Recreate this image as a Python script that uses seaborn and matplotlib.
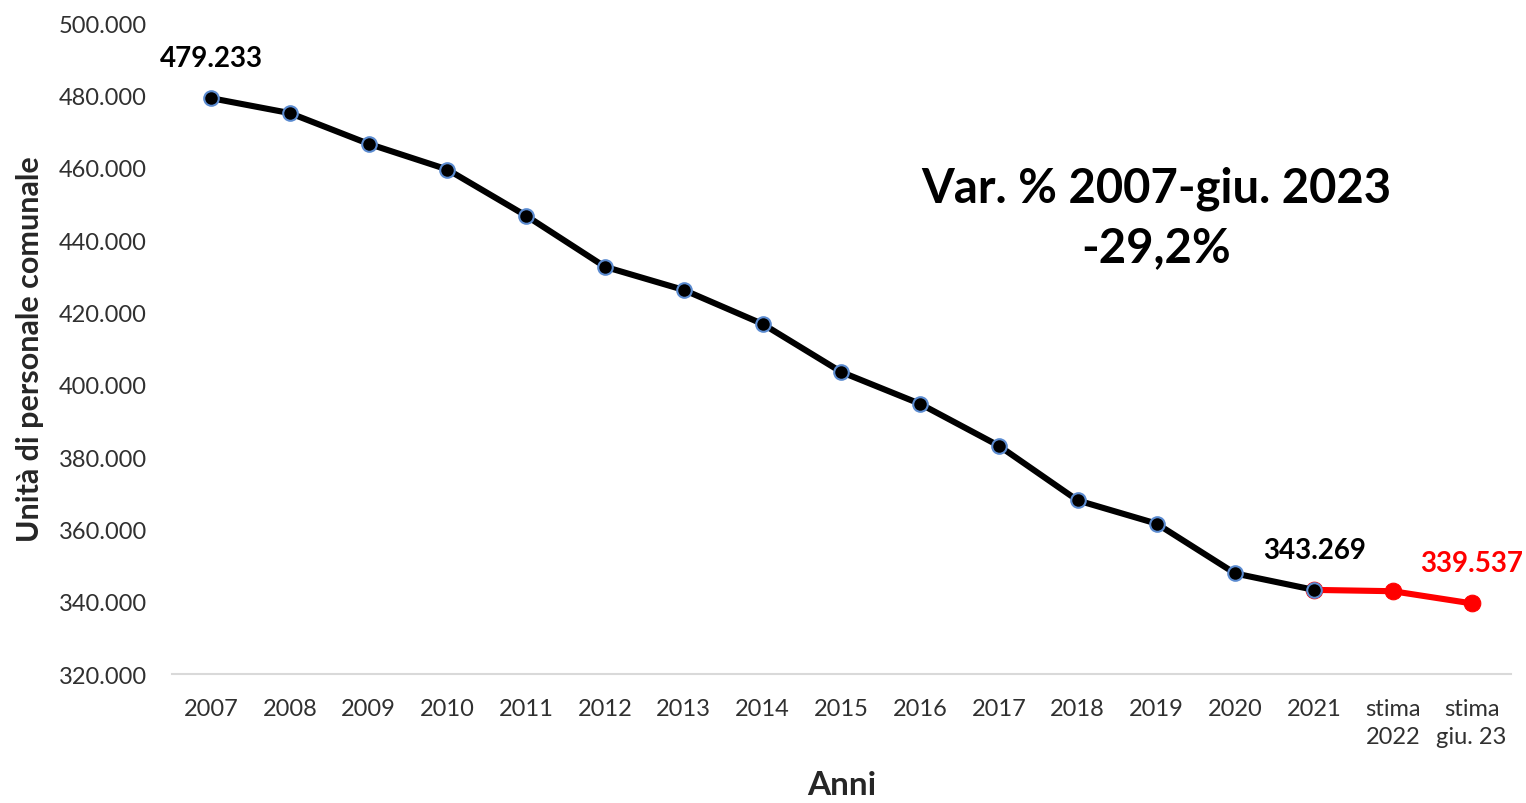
import matplotlib
matplotlib.use("Agg")
import matplotlib.pyplot as plt
import seaborn as sns
import numpy as np
import pandas as pd

categories = ['2007', '2008', '2009', '2010', '2011', '2012', '2013', '2014', '2015',
              '2016', '2017', '2018', '2019', '2020', '2021', 'stima\n2022', 'stima\ngiu. 23']
values = [479233, 475100, 466600, 459500, 446700, 432600, 426200, 416800, 403500,
          394700, 383100, 368000, 361600, 347800, 343269, 342900, 339537]
n_actual = 15  # 2007-2021 are actual data, the rest are estimates
y_ticks = [320000, 340000, 360000, 380000, 400000, 420000, 440000, 460000, 480000, 500000]

sns.set_theme(style="white")
plt.rcParams['font.family'] = ['Lato', 'DejaVu Sans']

df = pd.DataFrame({'pos': np.arange(len(categories)), 'val': values})
actual = df.iloc[:n_actual]
estimate = df.iloc[n_actual - 1:]

fig = plt.figure(figsize=(15.26, 8.04), dpi=100)
ax = fig.add_axes([0.1125, 0.1604, 0.8777, 0.8097])

sns.lineplot(data=estimate, x='pos', y='val', color='#ff0000', linewidth=4.4,
             marker='o', markersize=12, markeredgecolor='#ff0000', ax=ax, zorder=2)
sns.lineplot(data=actual, x='pos', y='val', color='black', linewidth=4.4,
             marker='o', markersize=10.5, markeredgecolor='#5b8bd0', markeredgewidth=1.5,
             ax=ax, zorder=3)

ax.set_xlim(-0.5, len(categories) - 0.5)
ax.set_ylim(320000, 500000)
ax.set_yticks(y_ticks)
ax.set_yticklabels([f"{v:,}".replace(',', '.') for v in y_ticks], fontsize=17, color='#303030')
ax.set_xticks(df['pos'])
ax.set_xticklabels(categories, fontsize=17, color='#303030', ha='center', linespacing=1.45)
ax.tick_params(axis='y', length=0, pad=18)
ax.tick_params(axis='x', length=0, pad=17)

for s in ['top', 'right', 'left']:
    ax.spines[s].set_visible(False)
ax.spines['bottom'].set_color('#d9d9d9')
ax.spines['bottom'].set_linewidth(1.5)

ax.set_ylabel('Unità di personale comunale', fontsize=22, fontweight='bold',
              ha='center', va='center')
ax.yaxis.set_label_coords(-0.1057, 0.5)
ax.set_xlabel('Anni', fontsize=24, fontweight='bold', va='center')
ax.xaxis.set_label_coords(0.5, -0.170)

# data labels
for i, col in [(0, 'black'), (n_actual - 1, 'black'), (len(values) - 1, '#ff0000')]:
    ax.annotate(f"{values[i]:,}".replace(',', '.'), (i, values[i]), xytext=(0, 29),
                textcoords='offset points', ha='center', va='center',
                fontsize=20, fontweight='bold', color=col)

ax.text(0.735, 0.702, 'Var. % 2007-giu. 2023\n-29,2%', transform=ax.transAxes,
        ha='center', va='center', fontsize=34, fontweight='bold', color='black',
        linespacing=1.43)

fig.savefig('out.png', dpi=100)
